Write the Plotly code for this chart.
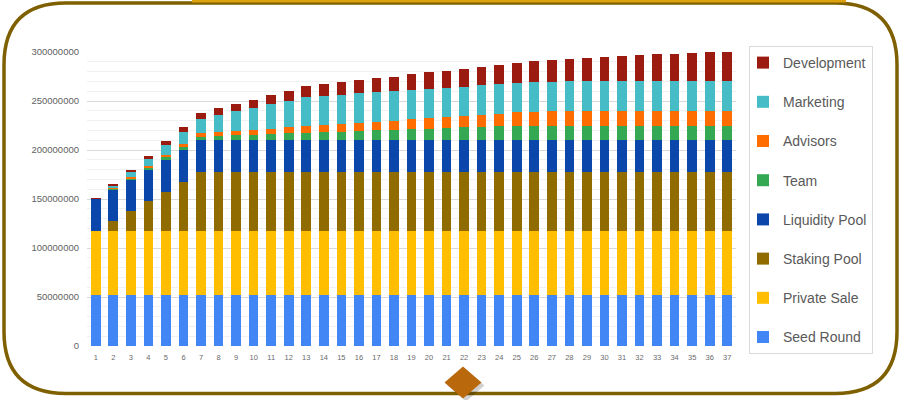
import plotly.graph_objects as go

periods = [str(i) for i in range(1, 38)]

seed_round = [52500000] * 37
private_sale = [65000000] * 37
staking_pool = [0, 10000000, 20000000, 30000000, 40000000, 50000000] + [60000000] * 31
liquidity_pool = [32500000] * 37
team = [0, 600000, 1250000, 1900000, 2500000, 3100000, 3750000, 4400000, 5000000, 5600000,
        6250000, 6900000, 7500000, 8100000, 8750000, 9400000, 10000000, 10600000, 11250000, 11900000,
        12500000, 13100000, 13750000, 14400000] + [15000000] * 13
advisors = [0, 550000, 1100000, 1650000, 2200000, 2800000, 3300000, 3900000, 4400000, 5000000,
            5500000, 6100000, 6700000, 7200000, 7800000, 8300000, 8900000, 9400000, 10000000, 10600000,
            11100000, 11700000, 12200000, 12800000, 13300000, 13900000, 14400000] + [15000000] * 10
marketing = [0, 2500000, 5000000, 7500000, 10000000, 12500000, 15000000, 17500000, 20000000,
             22500000, 25000000, 27500000] + [30000000] * 25
development = [800000, 1700000, 2500000, 3300000, 4200000, 5000000, 5800000, 6700000, 7500000, 8300000,
               9200000, 10000000, 10800000, 11700000, 12500000, 13300000, 14200000, 15000000, 15800000,
               16700000, 17500000, 18300000, 19200000, 20000000, 20800000, 21700000, 22500000, 23300000,
               24200000, 25000000, 25800000, 26700000, 27500000, 28300000, 29200000, 30000000, 30000000]

series = [
    ("Seed Round", seed_round, "#4285F4"),
    ("Private Sale", private_sale, "#FFBF00"),
    ("Staking Pool", staking_pool, "#8F6B00"),
    ("Liquidity Pool", liquidity_pool, "#0B47AB"),
    ("Team", team, "#34A853"),
    ("Advisors", advisors, "#FF6D01"),
    ("Marketing", marketing, "#46BDC6"),
    ("Development", development, "#9B1B10"),
]

y_ticks = [0, 50000000, 100000000, 150000000, 200000000, 250000000, 300000000]

W, H = 902, 400
L, R, T, B = 87, 736, 52, 346.5
PW, PH = R - L, B - T


def px(x):
    return (x - L) / PW


def py(y):
    return (B - y) / PH


fig = go.Figure()
n = len(series)
for i, (name, vals, col) in enumerate(series):
    fig.add_trace(go.Bar(
        x=periods, y=vals, name=name, legendgroup=name, legendrank=n - i,
        marker=dict(color=col, line=dict(width=0)),
    ))

# decorative frame
x0, x1, y0, y1, r = 4, 897, 3, 394, 62
frame = (f"M {px(x0 + r)},{py(y0)} L {px(x1 - r)},{py(y0)} Q {px(x1)},{py(y0)} {px(x1)},{py(y0 + r)} "
         f"L {px(x1)},{py(y1 - r)} Q {px(x1)},{py(y1)} {px(x1 - r)},{py(y1)} "
         f"L {px(x0 + r)},{py(y1)} Q {px(x0)},{py(y1)} {px(x0)},{py(y1 - r)} "
         f"L {px(x0)},{py(y0 + r)} Q {px(x0)},{py(y0)} {px(x0 + r)},{py(y0)} Z")

shapes = [
    dict(type="path", xref="paper", yref="paper", path=frame,
         line=dict(color="#7F6000", width=3.5), fillcolor="rgba(0,0,0,0)", layer="above"),
    dict(type="rect", xref="paper", yref="paper", x0=px(192), x1=px(846), y0=py(0), y1=py(2.5),
         line=dict(width=0), fillcolor="#DDA20E", layer="above"),
]
cx, cy, hw, hh = 463, 383, 18.5, 16
shadow = (f"M {px(cx + 3)},{py(cy - hh + 3)} L {px(cx + hw + 3)},{py(cy + 3)} "
          f"L {px(cx + 3)},{py(cy + hh + 3)} L {px(cx - hw + 3)},{py(cy + 3)} Z")
diamond = (f"M {px(cx)},{py(cy - hh)} L {px(cx + hw)},{py(cy)} "
           f"L {px(cx)},{py(cy + hh)} L {px(cx - hw)},{py(cy)} Z")
shapes.append(dict(type="path", xref="paper", yref="paper", path=shadow,
                   line=dict(width=0), fillcolor="rgba(0,0,0,0.18)", layer="above"))
shapes.append(dict(type="path", xref="paper", yref="paper", path=diamond,
                   line=dict(width=0), fillcolor="#B9680B", layer="above"))

fig.update_layout(
    width=W, height=H,
    margin=dict(l=L, r=W - R, t=T, b=H - B, pad=0),
    barmode="stack", bargap=0.45,
    paper_bgcolor="white", plot_bgcolor="white",
    font=dict(family="Liberation Sans, Arial, sans-serif", color="#595959"),
    xaxis=dict(type="category", tickfont=dict(size=7.5, color="#6b6b6b"), showgrid=False,
               showline=False, ticks="", tickangle=0, fixedrange=True, ticklabelstandoff=5),
    yaxis=dict(range=[0, 300000000], tickvals=y_ticks, ticktext=[str(v) for v in y_ticks],
               tickfont=dict(size=9.5, color="#5f5f5f"), showgrid=True, gridcolor="#D9D9D9",
               gridwidth=1, zeroline=False, showline=False, ticks="", ticklabelstandoff=7,
               minor=dict(dtick=10000000, showgrid=True, gridcolor="#F1F1F1", gridwidth=1)),
    legend=dict(x=px(749), xanchor="left", y=py(46), yanchor="top",
                traceorder="grouped", tracegroupgap=18, maxheight=400, indentation=-7,
                font=dict(size=14, color="#595959"), bordercolor="#D9D9D9", borderwidth=1,
                bgcolor="white"),
    shapes=shapes,
)

fig.write_html("out.html", config={"displayModeBar": False},
               post_script="document.body.style.margin='0';document.body.style.overflow='hidden';")
